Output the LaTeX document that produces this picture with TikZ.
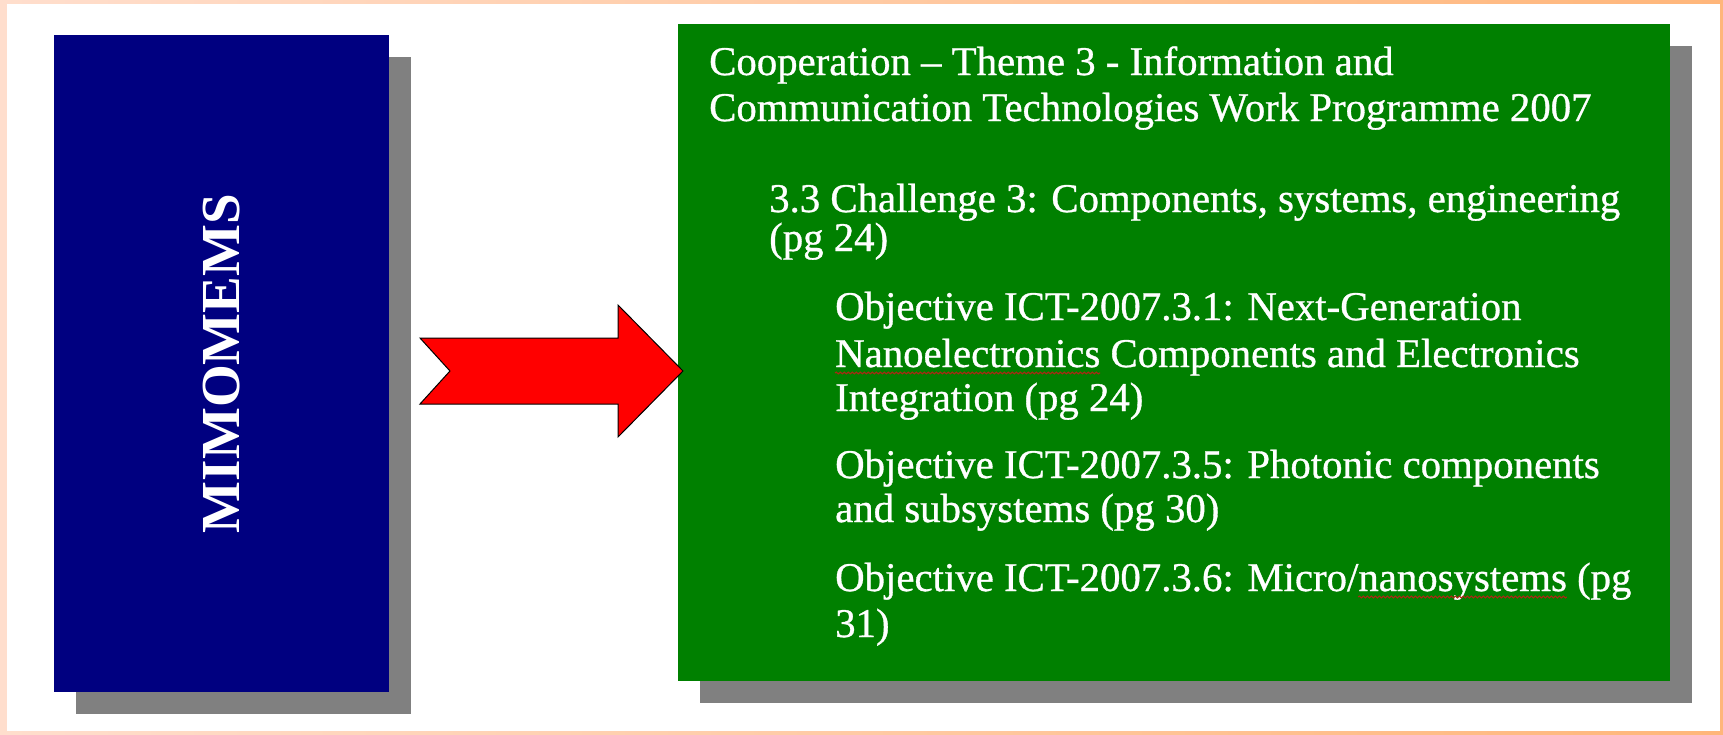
\documentclass[tikz,border=0pt]{standalone}
\usepackage{fontspec}
\setmainfont{Liberation Serif}
\newfontfamily\slidefont[FakeBold=0.8]{Liberation Serif}
\usetikzlibrary{calc,shadows,decorations.pathmorphing}
\definecolor{mimoblue}{RGB}{0,0,128}
\definecolor{ictgreen}{RGB}{0,128,0}
\definecolor{shadowgray}{RGB}{128,128,128}
\definecolor{spellred}{RGB}{170,40,20}
\definecolor{framepeach}{RGB}{255,222,205}
\definecolor{frameorange}{RGB}{255,182,122}
\newcommand{\linefont}{\slidefont\fontsize{40.8}{46}\selectfont}
\newlength{\nanoelwd}
\newlength{\microwd}
\newlength{\nanosyswd}
\tikzset{
  box/.style={inner sep=0pt, outer sep=0pt,
    drop shadow={shadow xshift=22pt, shadow yshift=-22pt, fill=shadowgray, opacity=1}},
  line/.style={text=white, anchor=base west, inner sep=0pt, font=\linefont},
  spelling/.style={draw=spellred, line width=1.1pt,
    decorate, decoration={snake, segment length=4pt, amplitude=0.9pt}}
}

\begin{document}
\settowidth{\nanoelwd}{\linefont Nanoelectronics}
\settowidth{\microwd}{\linefont Objective ICT-2007.3.6: Micro/}
\settowidth{\nanosyswd}{\linefont nanosystems}
\begin{tikzpicture}[x=1pt, y=-1pt]
  \useasboundingbox (0,0) rectangle (1723,734);
  % frame
  \fill[left color=framepeach, right color=frameorange] (0,0) rectangle (1723,734);
  \fill[white] (7,4) rectangle (1720,731);

  \node[box, fill=mimoblue, minimum width=335pt, minimum height=657pt,
    text=white, font=\fontsize{55}{60}\selectfont\bfseries]
    (mimo) at (221.5,363.5) {\rotatebox{90}{MIMOMEMS}};
  \node[box, fill=ictgreen, minimum width=992pt, minimum height=657pt]
    (ict) at (1174,352.5) {};

  % the work programme text
  \node[line] (coop1) at (709,75) {Cooperation – Theme 3 - Information and};
  \node[line] (coop2) at (709,121) {Communication Technologies Work Programme 2007};
  \node[line] (chal1) at (769,212) {3.3 Challenge 3: Components, systems, engineering};
  \node[line] (chal2) at (769,251) {(pg 24)};
  \node[line] (obja1) at (835,320) {Objective ICT-2007.3.1: Next-Generation};
  \node[line] (obja2) at (835,367) {Nanoelectronics Components and Electronics};
  \node[line] (obja3) at (835,411) {Integration (pg 24)};
  \node[line] (objb1) at (835,478) {Objective ICT-2007.3.5: Photonic components};
  \node[line] (objb2) at (835,522) {and subsystems (pg 30)};
  \node[line] (objc1) at (835,591) {Objective ICT-2007.3.6: Micro/nanosystems (pg};
  \node[line] (objc2) at (835,637) {31)};

  % spelling marks
  \draw[spelling] ($(obja2.base west)+(0,6)$) -- ++(\nanoelwd,0);
  \draw[spelling] ($(objc1.base west)+(\microwd,6)$) -- ++(\nanosyswd,0);

  % arrow
  \coordinate (tail) at (420,371);
  \coordinate (tip) at ($(ict.west |- tail)+(5,0)$);
  \filldraw[fill=red, draw=black, line width=1pt, line join=miter]
    (tail) ++(0,-33) -- ++(198,0) -- ++(0,-33) -- (tip)
    -- ++(-65,66) -- ++(0,-33) -- ++(-198,0) -- ++(30,-33) -- cycle;
\end{tikzpicture}
\end{document}
